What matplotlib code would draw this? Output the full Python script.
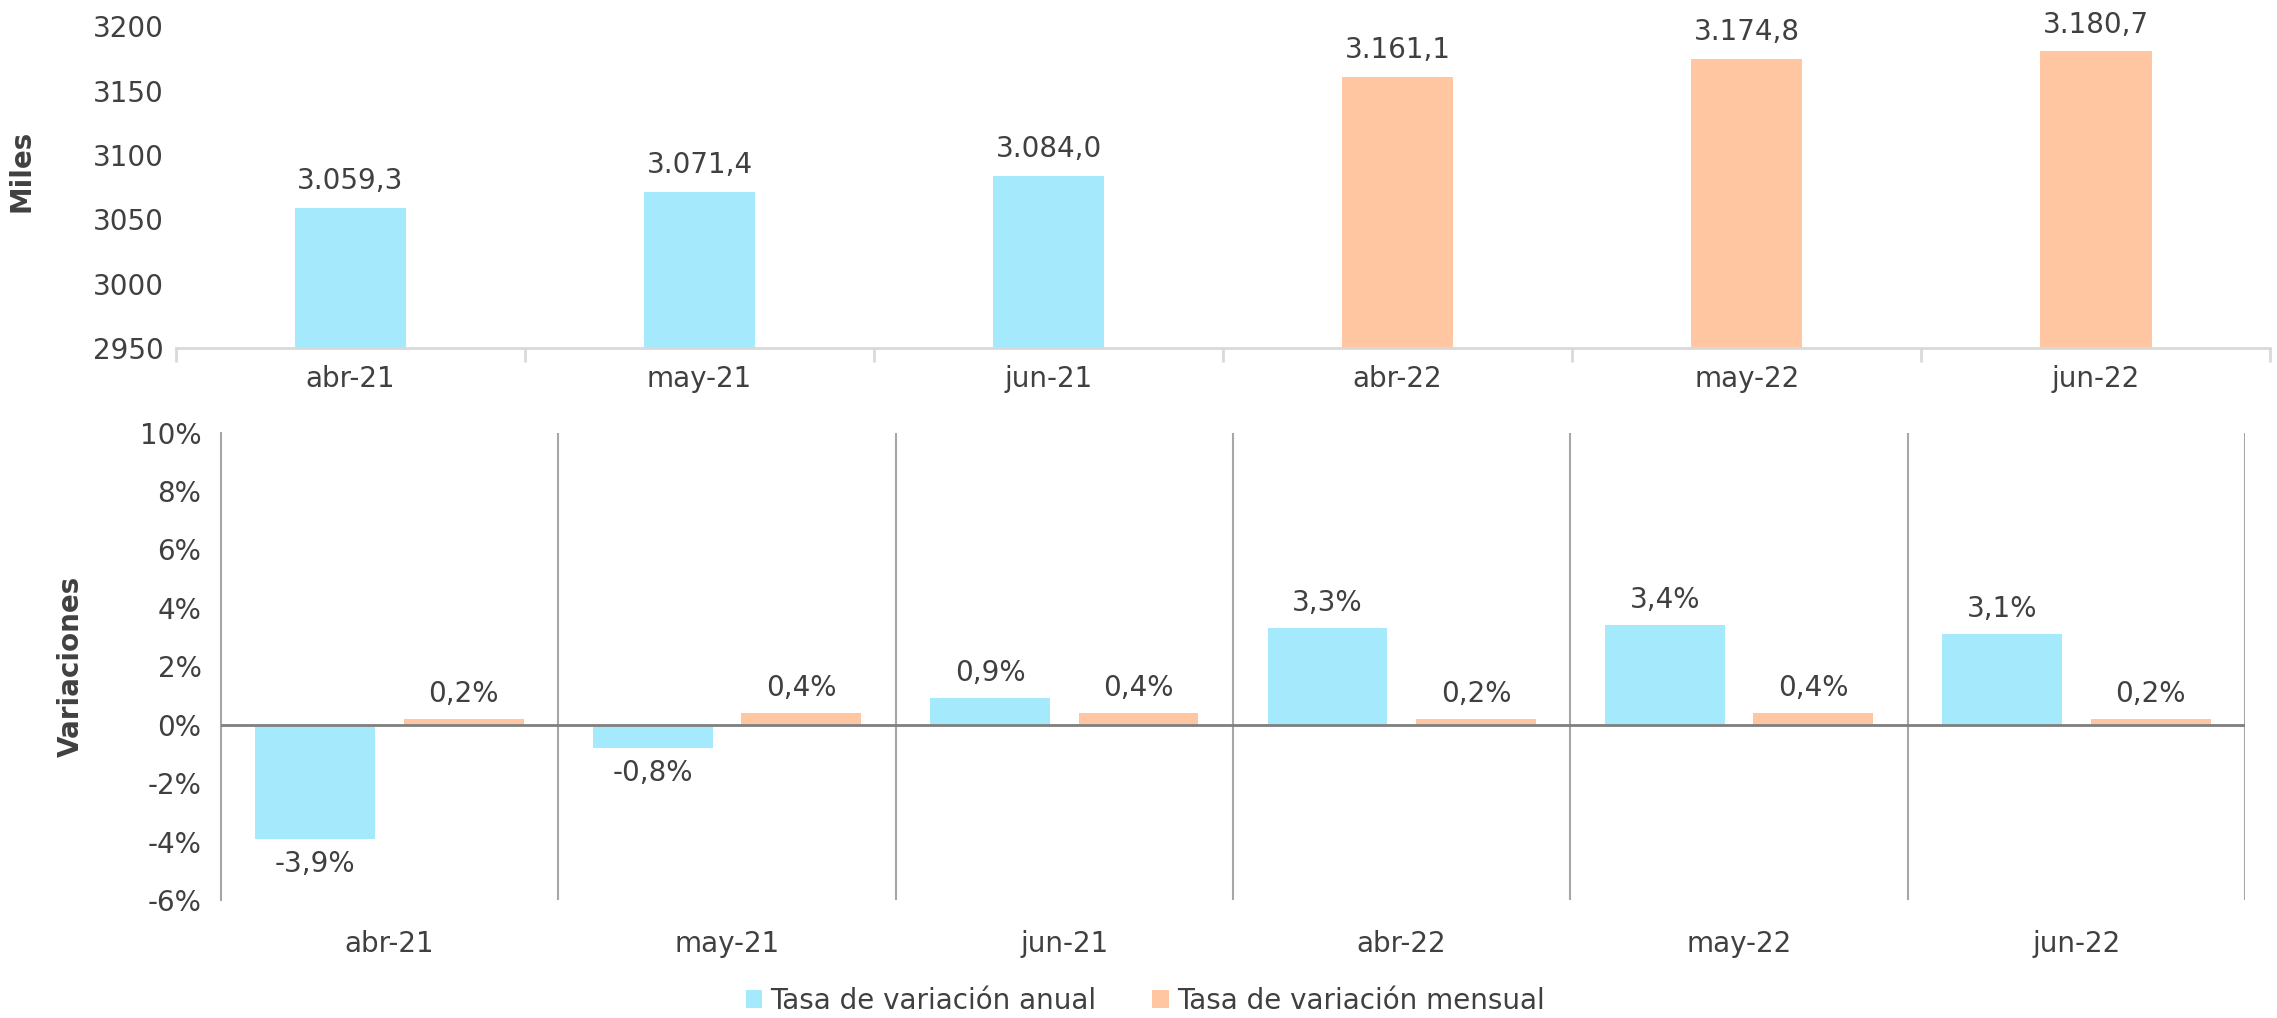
import matplotlib.pyplot as plt
import numpy as np

plt.rcParams['font.family'] = ['DejaVu Sans']

months = ['abr-21', 'may-21', 'jun-21', 'abr-22', 'may-22', 'jun-22']
miles = [3059.3, 3071.4, 3084.0, 3161.1, 3174.8, 3180.7]
anual = [-3.9, -0.8, 0.9, 3.3, 3.4, 3.1]
mensual = [0.2, 0.4, 0.4, 0.2, 0.4, 0.2]
top_ticks = [2950, 3000, 3050, 3100, 3150, 3200]
bottom_ticks = [-6, -4, -2, 0, 2, 4, 6, 8, 10]

BLUE = '#A5E9FD'
ORANGE = '#FFC6A1'
TXT = '#404040'


def es_num(v, dec=1):
    """Spanish style number: 3.059,3"""
    s = f'{v:,.{dec}f}'
    return s.replace(',', 'X').replace('.', ',').replace('X', '.')


fig = plt.figure(figsize=(22.77, 10.18), dpi=100, facecolor='white')
ax1 = fig.add_axes([0.0773, 0.658, 0.9197, 0.316])
ax2 = fig.add_axes([0.097, 0.116, 0.889, 0.459])

x = np.arange(len(months))

# top chart: levels
colors = [BLUE] * 3 + [ORANGE] * 3
bars = ax1.bar(x, miles, width=0.32, color=colors)
ax1.set_ylim(2950, 3200)
ax1.set_xlim(-0.5, 5.5)
ax1.set_yticks(top_ticks)
ax1.set_xticks(x)
ax1.set_xticklabels(months)
ax1.set_xticks(np.arange(-0.5, 6.0, 1), minor=True)
for b, v in zip(bars, miles):
    ax1.annotate(es_num(v), (b.get_x() + b.get_width() / 2, v), xytext=(0, 9),
                 textcoords='offset points', ha='center', va='bottom',
                 fontsize=20, color=TXT)
for s in ['top', 'right', 'left']:
    ax1.spines[s].set_visible(False)
ax1.spines['bottom'].set_color('#D9D9D9')
ax1.spines['bottom'].set_linewidth(2)
ax1.tick_params(axis='y', length=0, labelsize=20, labelcolor=TXT, pad=9)
ax1.tick_params(axis='x', which='major', length=0, labelsize=20, labelcolor=TXT, pad=12)
ax1.tick_params(axis='x', which='minor', length=10, width=2, color='#D9D9D9')
ax1.set_ylabel('Miles', fontsize=20, fontweight='bold', color=TXT)
ax1.yaxis.set_label_coords(-0.067, 0.55)

# bottom chart: variations
w = 0.355
b_an = ax2.bar(x - 0.22, anual, width=w, color=BLUE, label='Tasa de variación anual')
b_me = ax2.bar(x + 0.22, mensual, width=w, color=ORANGE, label='Tasa de variación mensual')
ax2.set_ylim(-6, 10)
ax2.set_xlim(-0.5, 5.5)
ax2.set_yticks(bottom_ticks)
ax2.set_yticklabels([f'{t}%' for t in bottom_ticks])
ax2.set_xticks(x)
ax2.set_xticklabels(months)
for b, v in list(zip(b_an, anual)) + list(zip(b_me, mensual)):
    cx = b.get_x() + b.get_width() / 2
    if v < 0:
        ax2.annotate(es_num(v) + '%', (cx, v), xytext=(0, -8), textcoords='offset points',
                     ha='center', va='top', fontsize=20, color=TXT)
    else:
        ax2.annotate(es_num(v) + '%', (cx, v), xytext=(0, 8), textcoords='offset points',
                     ha='center', va='bottom', fontsize=20, color=TXT)
ax2.axhline(0, color='#7F7F7F', lw=2, zorder=3)
for xb in np.arange(0.5, 6.0, 1):
    ax2.axvline(xb, color='#A6A6A6', lw=1.5, zorder=0)
for s in ['top', 'right', 'bottom']:
    ax2.spines[s].set_visible(False)
ax2.spines['left'].set_color('#A6A6A6')
ax2.spines['left'].set_linewidth(1.5)
ax2.tick_params(axis='y', length=0, labelsize=20, labelcolor=TXT, pad=14)
ax2.tick_params(axis='x', length=0, labelsize=20, labelcolor=TXT, pad=22)
ax2.set_ylabel('Variaciones', fontsize=20, fontweight='bold', color=TXT)
ax2.yaxis.set_label_coords(-0.067, 0.5)

leg = fig.legend(handles=[b_an, b_me], loc='center', bbox_to_anchor=(0.503, 0.017),
                 ncol=2, frameon=False, fontsize=20, handlelength=0.6, handleheight=0.6,
                 handletextpad=0.3, columnspacing=2.0, labelcolor=TXT)

fig.savefig('out.png', dpi=100, facecolor='white')
